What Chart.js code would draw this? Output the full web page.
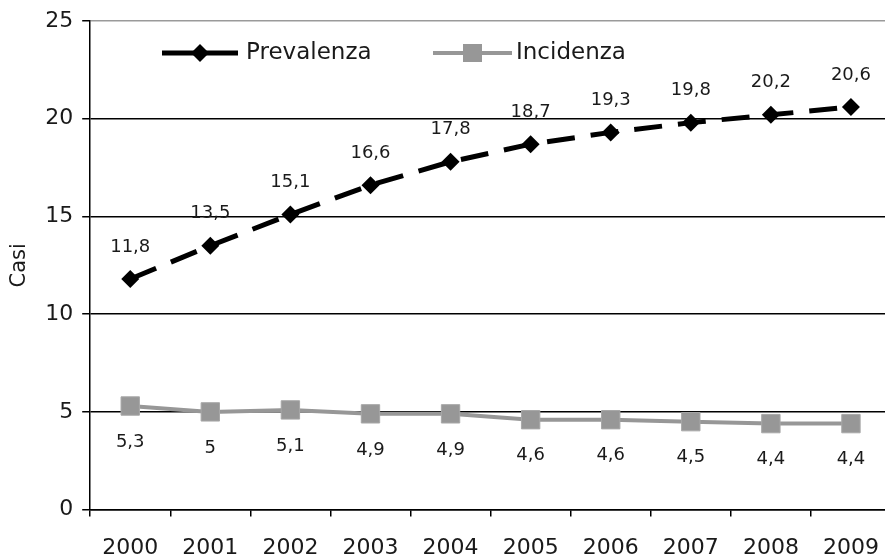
<!DOCTYPE html>
<html>
<head>
<meta charset="utf-8">
<script src="https://cdn.jsdelivr.net/npm/chart.js@4/dist/chart.umd.min.js"></script>
<style>
  html, body { margin: 0; padding: 0; background: #fff; overflow: hidden; }
  #wrap { width: 885px; height: 558px; overflow: hidden; position: relative; }
  canvas { display: block; }
</style>
</head>
<body>
<div id="wrap"><canvas id="c" width="905" height="558"></canvas></div>
<script>
// Anni e casi (prevalenza e incidenza)
const anni = ['2000', '2001', '2002', '2003', '2004', '2005', '2006', '2007', '2008', '2009'];
const prevalenza = [11.8, 13.5, 15.1, 16.6, 17.8, 18.7, 19.3, 19.8, 20.2, 20.6];
const incidenza = [5.3, 5.0, 5.1, 4.9, 4.9, 4.6, 4.6, 4.5, 4.4, 4.4];
const yMin = 0, yMax = 25, yStep = 5;
const serieNomi = ['Prevalenza', 'Incidenza'];

const FONT = 'DejaVu Sans';
const GRIGIO = '#979797';
const TESTO = '#1a1a1a';

const virgola = v => String(v).replace('.', ',');

// Etichette dei valori: sopra la prevalenza, sotto l'incidenza
const etichette = {
  id: 'etichette',
  afterDatasetsDraw(chart) {
    const ctx = chart.ctx;
    ctx.save();
    ctx.font = '18px "' + FONT + '"';
    ctx.fillStyle = TESTO;
    ctx.textAlign = 'center';
    ctx.textBaseline = 'middle';
    chart.data.datasets.forEach((ds, i) => {
      const meta = chart.getDatasetMeta(i);
      const dy = i === 0 ? -32 : 36;
      meta.data.forEach((pt, j) => {
        ctx.fillText(virgola(ds.data[j]), pt.x, pt.y + dy);
      });
    });
    ctx.restore();
  }
};

// Legenda interna all'area del grafico
const legenda = {
  id: 'legenda',
  afterDraw(chart) {
    const ctx = chart.ctx;
    const y = 53;
    ctx.save();
    // Prevalenza
    ctx.strokeStyle = '#000';
    ctx.lineWidth = 5;
    ctx.beginPath(); ctx.moveTo(162, y); ctx.lineTo(238, y); ctx.stroke();
    ctx.fillStyle = '#000';
    ctx.beginPath();
    ctx.moveTo(200, y - 9); ctx.lineTo(209, y); ctx.lineTo(200, y + 9); ctx.lineTo(191, y);
    ctx.closePath(); ctx.fill();
    // Incidenza
    ctx.strokeStyle = GRIGIO;
    ctx.lineWidth = 4;
    ctx.beginPath(); ctx.moveTo(433, y); ctx.lineTo(512, y); ctx.stroke();
    ctx.fillStyle = GRIGIO;
    ctx.fillRect(463, y - 9, 19, 18);
    // Testi
    ctx.font = '23px "' + FONT + '"';
    ctx.fillStyle = TESTO;
    ctx.textAlign = 'left';
    ctx.textBaseline = 'middle';
    ctx.fillText(serieNomi[0], 246, y);
    ctx.fillText(serieNomi[1], 516, y);
    ctx.restore();
  }
};

new Chart(document.getElementById('c'), {
  type: 'line',
  data: {
    labels: anni,
    datasets: [
      {
        label: serieNomi[0],
        data: prevalenza,
        borderColor: '#000',
        borderWidth: 5,
        borderDash: [28, 16],
        pointStyle: 'rectRot',
        pointRadius: 9,
        pointBackgroundColor: '#000',
        pointBorderWidth: 0,
        tension: 0,
        fill: false
      },
      {
        label: serieNomi[1],
        data: incidenza,
        borderColor: GRIGIO,
        borderWidth: 4,
        pointStyle: 'rect',
        pointRadius: 13,
        pointBackgroundColor: GRIGIO,
        pointBorderColor: '#a8a8a8',
        pointBorderWidth: 1,
        tension: 0,
        fill: false
      }
    ]
  },
  options: {
    responsive: false,
    animation: false,
    devicePixelRatio: 1,
    layout: { padding: { top: 21, left: 5, right: 0, bottom: -21 } },
    plugins: { legend: { display: false }, tooltip: { enabled: false } },
    scales: {
      x: {
        offset: true,
        grid: { offset: true, drawOnChartArea: false, tickLength: 7, color: '#000', lineWidth: 1.5 },
        border: { color: '#000', width: 1.5 },
        ticks: { color: TESTO, font: { family: FONT, size: 22 }, padding: 18, maxRotation: 0, autoSkip: false }
      },
      y: {
        min: yMin,
        max: yMax,
        ticks: { stepSize: yStep, color: TESTO, font: { family: FONT, size: 22, lineHeight: 1 }, padding: 9 },
        grid: {
          color: c => (c.tick && c.tick.value === yMax) ? '#9a9a9a' : '#000',
          tickColor: '#000',
          lineWidth: 1.5,
          tickLength: 8
        },
        border: { color: '#000', width: 1.5 },
        title: { display: true, text: 'Casi', color: TESTO, font: { family: FONT, size: 21 }, padding: { top: 2, bottom: 4 } }
      }
    }
  },
  plugins: [etichette, legenda]
});
</script>
</body>
</html>
